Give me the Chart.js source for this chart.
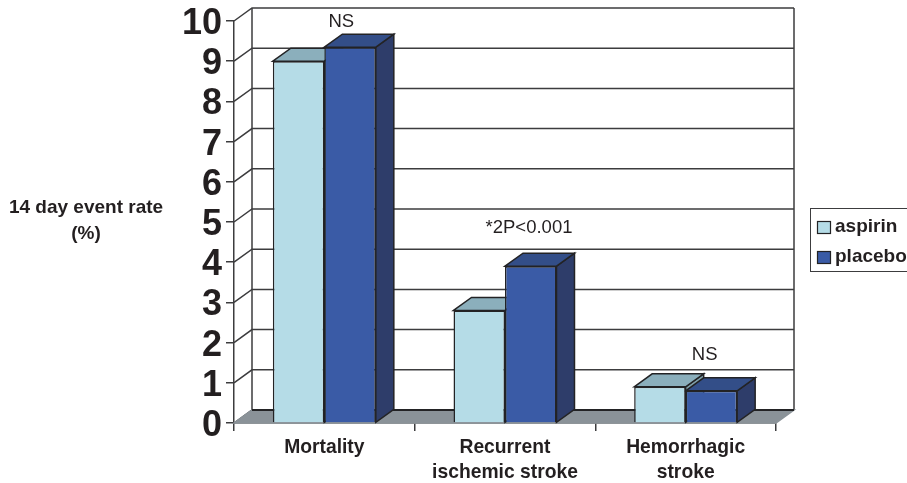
<!DOCTYPE html>
<html>
<head>
<meta charset="utf-8">
<style>
  html, body { margin: 0; padding: 0; background: #fff; overflow: hidden; }
</style>
<script src="https://cdn.jsdelivr.net/npm/chart.js@4"></script>
</head>
<body>
<canvas id="chartStroke" width="907" height="483"></canvas>
<script>
const categories = ['Mortality', ['Recurrent', 'ischemic stroke'], ['Hemorrhagic', 'stroke']];
const aspirin = [9, 2.8, 0.9];
const placebo = [9.35, 3.9, 0.8];
const seriesNames = ['aspirin', 'placebo'];
const yTicks = [0, 1, 2, 3, 4, 5, 6, 7, 8, 9, 10];
const noteTexts = ['NS', '*2P<0.001', 'NS'];
const noteValues = [10, 4.88, 1.72];
const noteShift = [17, 24, 19];

const textColor = '#231f20';
const lineColor = '#3c3c3e';
const fontName = '"Liberation Sans", Arial, sans-serif';
const depthX = 18;
const depthY = 13;
const frontColors = ['#b5dce7', '#3a5ba6'];
const topColors = ['#8bafbc', '#334e88'];
const sideColors = ['#7f9faa', '#2e3d6a'];

function poly(c, pts, fill, stroke) {
  c.beginPath();
  pts.forEach((p, i) => i ? c.lineTo(p[0], p[1]) : c.moveTo(p[0], p[1]));
  c.closePath();
  c.fillStyle = fill;
  c.fill();
  c.strokeStyle = stroke;
  c.lineWidth = 1.5;
  c.stroke();
}

// walls, floor and the depth faces of the bars
const depthPlugin = {
  id: 'depth',
  beforeDatasetsDraw(chart) {
    const c = chart.ctx;
    const a = chart.chartArea;
    const y = chart.scales.y;
    c.save();
    c.strokeStyle = lineColor;
    c.lineWidth = 1.5;
    yTicks.forEach(t => {
      const py = y.getPixelForValue(t);
      c.beginPath();
      c.moveTo(a.left, py);
      c.lineTo(a.left + depthX, py - depthY);
      c.lineTo(a.right + depthX, py - depthY);
      c.stroke();
    });
    c.beginPath();
    c.moveTo(a.left + depthX, a.top - depthY);
    c.lineTo(a.left + depthX, a.bottom - depthY);
    c.moveTo(a.right + depthX, a.top - depthY);
    c.lineTo(a.right + depthX, a.bottom - depthY);
    c.stroke();

    poly(c, [[a.left, a.bottom], [a.right, a.bottom], [a.right + depthX, a.bottom - depthY], [a.left + depthX, a.bottom - depthY]], '#8a9298', '#8a9298');
    c.strokeStyle = '#232325';
    c.lineWidth = 2;
    c.beginPath();
    c.moveTo(a.left + depthX, a.bottom - depthY);
    c.lineTo(a.right + depthX, a.bottom - depthY);
    c.stroke();

    chart.getDatasetMeta(0).data.forEach((_, i) => {
      [0, 1].forEach(d => {
        const b = chart.getDatasetMeta(d).data[i];
        const l = b.x - b.width / 2;
        const r = b.x + b.width / 2;
        poly(c, [[r, b.y], [r + depthX, b.y - depthY], [r + depthX, b.base - depthY], [r, b.base]], sideColors[d], '#232325');
        poly(c, [[l, b.y], [l + depthX, b.y - depthY], [r + depthX, b.y - depthY], [r, b.y]], topColors[d], '#232325');
      });
    });
    c.restore();
  },
  // axis title, notes over the bars and the legend box
  afterDraw(chart) {
    const c = chart.ctx;
    const x = chart.scales.x;
    const y = chart.scales.y;
    c.save();
    c.fillStyle = textColor;
    c.textAlign = 'center';
    c.textBaseline = 'middle';

    c.font = 'bold 19px ' + fontName;
    c.fillText('14 day event rate', 86, 208);
    c.fillText('(%)', 86, 234);

    c.font = '18.5px ' + fontName;
    noteTexts.forEach((t, i) => {
      c.fillText(t, x.getPixelForValue(i) + noteShift[i], y.getPixelForValue(noteValues[i]) + 1);
    });

    c.strokeStyle = lineColor;
    c.lineWidth = 1;
    c.strokeRect(810.5, 208.5, 110, 63);
    c.textAlign = 'left';
    c.font = 'bold 19px ' + fontName;
    seriesNames.forEach((n, i) => {
      const top = 221 + i * 30;
      c.fillStyle = frontColors[i];
      c.fillRect(817.5, top + 0.5, 13, 12);
      c.strokeStyle = '#232325';
      c.lineWidth = 1.2;
      c.strokeRect(817.5, top + 0.5, 13, 12);
      c.fillStyle = textColor;
      c.fillText(n, 835, top + 6);
    });
    c.restore();
  }
};

new Chart(document.getElementById('chartStroke').getContext('2d'), {
  type: 'bar',
  data: {
    labels: categories,
    datasets: [
      { label: seriesNames[0], data: aspirin, backgroundColor: frontColors[0], borderColor: '#232325', borderWidth: 1.5 },
      { label: seriesNames[1], data: placebo, backgroundColor: frontColors[1], borderColor: '#232325', borderWidth: 1.5 }
    ]
  },
  options: {
    responsive: false,
    animation: false,
    layout: { padding: { top: 21, right: 131, left: 0, bottom: 0 } },
    datasets: { bar: { barPercentage: 1, categoryPercentage: 0.57 } },
    plugins: { legend: { display: false }, tooltip: { enabled: false } },
    scales: {
      x: {
        afterFit(s) { s.height = 60; },
        grid: { drawOnChartArea: false, tickLength: 8, color: lineColor, lineWidth: 1.5 },
        border: { color: lineColor, width: 1.5 },
        ticks: { color: textColor, maxRotation: 0, padding: 4, font: { family: fontName, weight: 'bold', size: 19.3, lineHeight: 1.3 } }
      },
      y: {
        min: 0,
        max: 10,
        afterFit(s) { s.width = 234; s.paddingTop = 0; s.paddingBottom = 0; },
        afterBuildTicks(s) { s.ticks = yTicks.map(v => ({ value: v })); },
        grid: { drawOnChartArea: false, tickLength: 8, color: lineColor, lineWidth: 1.5 },
        border: { color: lineColor, width: 1.5 },
        ticks: { color: textColor, padding: 4, labelOffset: 3, autoSkip: false, font: { family: fontName, weight: 'bold', size: 36, lineHeight: 1 } }
      }
    }
  },
  plugins: [depthPlugin]
});
</script>
</body>
</html>
